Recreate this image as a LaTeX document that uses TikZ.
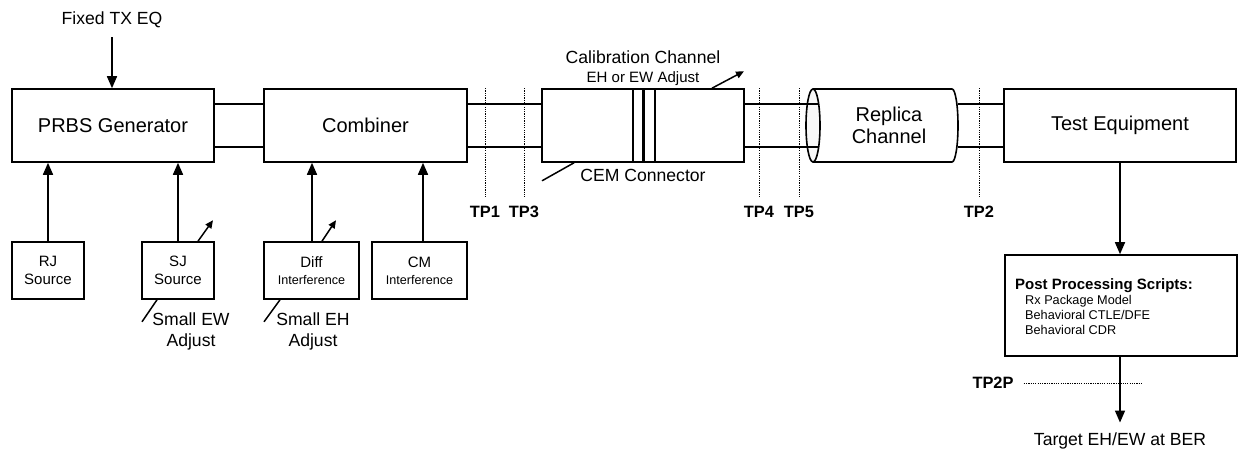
\documentclass[tikz,border=0pt]{standalone}
\usepackage{fontspec}
\setmainfont{Liberation Sans}
\usetikzlibrary{arrows.meta,calc}
\tikzset{
  box/.style={draw, line width=1.6pt, rectangle, inner sep=0pt, align=center},
  link/.style={line width=1.6pt},
  arr/.style={line width=1.6pt, -{Triangle[length=12pt,width=10pt]}},
  adj/.style={line width=1.5pt, -{Triangle[length=8pt,width=7pt]}},
  tick/.style={line width=1.5pt},
  dotline/.style={line width=1pt, dash pattern=on 1.2pt off 1.1pt},
  big/.style={font=\fontsize{20}{22}\selectfont},
  mid/.style={font=\fontsize{17.6}{21}\selectfont},
  small/.style={font=\fontsize{15}{18.3}\selectfont},
  tp/.style={font=\fontsize{16.4}{18}\selectfont\bfseries, inner sep=2pt},
  txt/.style={inner sep=2pt},
}
\begin{document}
\begin{tikzpicture}[x=1pt,y=-1pt]
\useasboundingbox (0,0) rectangle (1241,449);

% main chain boxes
\node[box, big, minimum width=202pt, minimum height=73pt] (prbs) at (113,125.5) {PRBS Generator};
\node[box, big, minimum width=203pt, minimum height=73pt] (comb) at (365.5,125.5) {Combiner};
\node[box, minimum width=202pt, minimum height=73pt] (cal) at (643,125.5) {};
\node[box, big, minimum width=232pt, minimum height=73pt] (test) at (1120,125.5) {Test Equipment};

% connector bars inside calibration channel
\draw[line width=1.4pt] ([xshift=-10pt]cal.north) -- ([xshift=-10pt]cal.south);
\draw[line width=3.6pt] ([xshift=0.5pt]cal.north) -- ([xshift=0.5pt]cal.south);
\draw[line width=1.4pt] ([xshift=12pt]cal.north) -- ([xshift=12pt]cal.south);

% replica channel (cylinder)
\coordinate (repL) at (813,125.5);
\coordinate (repR) at (958,125.5);
\draw[link, fill=white] (813,89) -- (952,89) arc[start angle=90, end angle=-90, x radius=6pt, y radius=36.5pt] -- (813,162);
\draw[link, fill=gray!6] (repL) ellipse [x radius=7pt, y radius=36.5pt];
\node[big, align=center, txt] (rep) at (889,125) {Replica\\Channel};

% links
\foreach \s in {21.5,-21.5}{
  \draw[link] ([yshift=\s pt]prbs.east) -- ([yshift=\s pt]comb.west);
  \draw[link] ([yshift=\s pt]comb.east) -- ([yshift=\s pt]cal.west);
  \draw[link] ([yshift=\s pt]cal.east) -- ([yshift=\s pt, xshift=5.5pt]repL);
  \draw[link] ([yshift=\s pt]repR) -- ([yshift=\s pt]test.west);
}

% top input
\node[mid, txt] (fixed) at (112,20) {Fixed TX EQ};
\draw[arr] ([yshift=-7pt]fixed.south) -- (fixed |- prbs.north);

% source boxes
\node[box, small, minimum width=72pt, minimum height=57pt] (rj) at (48,270.5) {RJ\\Source};
\node[box, small, minimum width=72pt, minimum height=57pt] (sj) at (178,270.5) {SJ\\Source};
\node[box, small, minimum width=95pt, minimum height=57pt] (diff) at (311.5,270.5) {Diff\\[-1pt]{\fontsize{12.6}{15}\selectfont Interference}};
\node[box, small, minimum width=95pt, minimum height=57pt] (cm) at (419.5,270.5) {CM\\[-1pt]{\fontsize{12.6}{15}\selectfont Interference}};

\draw[arr] (rj.north) -- (rj.north |- prbs.south);
\draw[arr] (sj.north) -- (sj.north |- prbs.south);
\draw[arr] ([xshift=0.5pt]diff.north) -- ([xshift=0.5pt]diff.north |- comb.south);
\draw[arr] ([xshift=3.5pt]cm.north) -- ([xshift=3.5pt]cm.north |- comb.south);

% adjust arrows
\draw[adj] ([xshift=20pt]sj.north) -- ++(15,-21);
\draw[adj] ([xshift=10.5pt]diff.north) -- ++(14,-21);
\draw[tick] ([xshift=-21pt]sj.south) -- ++(-15,22);
\draw[tick] ([xshift=-31.5pt]diff.south) -- ++(-16,22);
\node[mid, align=center, txt] (ewadj) at (191,331) {Small EW\\Adjust};
\node[mid, align=center, txt] (ehadj) at (313,331) {Small EH\\Adjust};

% calibration channel labels
\node[mid, txt] (calt) at (643,57) {Calibration Channel};
\node[small, txt] (calsub) at (643,79) {EH or EW Adjust};
\draw[adj] ([xshift=69pt]cal.north) -- ++(32,-17);
\draw[tick] ([xshift=-69pt]cal.south) -- ++(-32,18);
\node[mid, txt] (cem) at (643,175) {CEM Connector};

% test points
\node[tp] (tp1) at (485,212) {TP1};
\node[tp] (tp3) at (524,212) {TP3};
\node[tp] (tp4) at (759,212) {TP4};
\node[tp] (tp5) at (799,212) {TP5};
\node[tp] (tp2) at (979,212) {TP2};
\foreach \t in {tp1,tp3,tp4,tp5,tp2}{
  \draw[dotline] (\t |- comb.north) -- ([yshift=6pt]\t.north);
}

% post processing
\node[box, minimum width=232pt, minimum height=101pt] (post) at (1121,305.5) {};
\node[anchor=north west, align=left, inner sep=0pt, font=\fontsize{12.7}{15}\selectfont] (postt) at (1015,278)
  {{\fontsize{15}{15}\selectfont\bfseries Post Processing Scripts:}\\
   \hspace*{10pt}Rx Package Model\\
   \hspace*{10pt}Behavioral CTLE/DFE\\
   \hspace*{10pt}Behavioral CDR};
\draw[arr] (test.south) -- (test.south |- post.north);

\node[mid, anchor=base, txt] (target) at (1120,445) {Target EH/EW at BER};
\draw[arr] (post.south -| test.south) -- ([yshift=7.5pt]target.north);

\node[tp] (tp2p) at (993,383) {TP2P};
\draw[dotline] ([xshift=8pt]tp2p.east) -- ++(118,0);
\end{tikzpicture}
\end{document}
